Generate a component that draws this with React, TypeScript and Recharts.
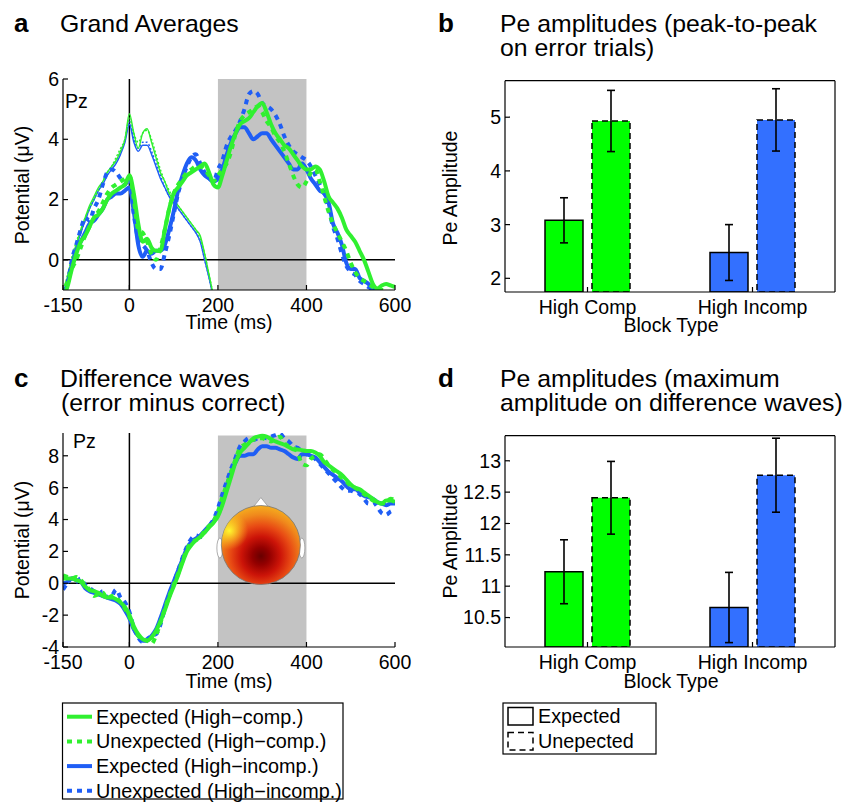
import React from 'react';
import {
  LineChart, Line, XAxis, YAxis, ReferenceLine, ReferenceArea, ReferenceDot,
  BarChart, Bar, Cell, ErrorBar,
} from 'recharts';

const FONT = '"Liberation Sans", Arial, Helvetica, sans-serif';
const GREEN = '#30f030';
const BLUE = '#1f5ef5';
const BAR_COLORS = ['#00ff00', '#3370ff'];
const SHADE = '#c3c3c3';

// time axis (ms) shared by panels a and c
const TIMES = [
  -150, -140, -130, -120, -110, -100, -90, -80, -70, -60, -50, -40, -30, -20, -10,
  0, 10, 20, 30, 40, 50, 60, 70, 80, 90, 100, 110, 120, 130, 140, 150, 160, 170, 180, 190,
  200, 210, 220, 230, 240, 250, 260, 270, 280, 290, 300, 310, 320, 330, 340, 350, 360, 370, 380, 390,
  400, 410, 420, 430, 440, 450, 460, 470, 480, 490, 500, 510, 520, 530, 540, 550, 560, 570, 580, 590, 600,
];

// panel a: grand averages, error trials (thick)
const aGreenExp = [
  -1.2, -0.9, -0.3, 0.2, 0.6, 0.8, 1.1, 1.4, 1.5, 1.7, 2.0, 2.2, 2.3, 2.4, 2.5,
  2.8, 2.2, 1.2, 0.6, 0.7, 0.4, 0.3, 0.3, 1.0, 1.7, 2.2, 2.4, 2.6, 2.8, 2.9, 3.0, 3.1, 3.2, 2.9, 2.5,
  2.4, 2.8, 3.3, 3.8, 4.2, 4.5, 4.6, 4.7, 4.9, 5.1, 5.2, 4.9, 4.5, 4.2, 4.0, 3.8, 3.7, 3.5, 3.3, 3.1,
  3.0, 3.0, 3.1, 3.0, 2.6, 2.1, 1.9, 1.7, 1.4, 1.0, 0.8, 0.6, 0.3, 0.0, -0.4, -0.8, -0.95, -0.85, -0.8, -0.85, -0.9,
];
const aGreenUnexp = [
  -1.2, -0.7, -0.3, 0.0, 0.4, 0.8, 1.1, 1.4, 1.6, 1.9, 2.2, 2.4, 2.5, 2.6, 2.7,
  2.8, 2.0, 1.0, 0.9, 0.6, 0.2, 0.0, 0.4, 1.0, 1.7, 2.2, 2.5, 2.7, 2.9, 3.0, 3.1, 3.1, 3.0, 2.8, 2.6,
  2.8, 3.0, 3.2, 3.6, 4.2, 4.6, 4.8, 4.9, 5.0, 5.1, 4.9, 4.6, 4.4, 4.1, 3.9, 3.6, 3.2, 2.8, 2.5, 2.4,
  2.6, 2.9, 3.0, 2.6, 2.1, 1.6, 1.2, 0.9, 0.6, 0.3, -0.1, -0.4, -0.6, -0.7, -0.8, -0.9, -1.0, -1.0, -1.0, -1.1, -1.1,
];
const aBlueExp = [
  -1.3, -0.8, -0.2, 0.3, 0.6, 0.9, 1.2, 1.3, 1.5, 1.7, 2.0, 2.1, 2.2, 2.2, 2.3,
  2.4, 1.6, 0.5, 0.1, 0.3, 0.2, 0.3, 0.3, 0.5, 1.0, 1.6, 2.3, 2.8, 3.2, 3.4, 3.3, 3.0, 2.8, 2.7, 2.6,
  2.7, 3.0, 3.5, 3.9, 4.2, 4.4, 4.4, 4.2, 4.0, 4.1, 4.2, 4.2, 4.0, 3.8, 3.6, 3.4, 3.2, 3.0, 3.0, 3.2,
  3.0, 2.7, 2.5, 2.3, 2.2, 1.9, 1.2, 0.9, 0.5, -0.1, -0.3, -0.3, -0.6, -0.7, -0.8, -1.0, -1.1, -1.2, -1.2, -1.3, -1.3,
];
const aBlueUnexp = [
  -1.1, -0.8, 0.0, 0.5, 1.0, 1.4, 1.3, 1.7, 2.0, 2.5, 2.9, 3.0, 2.9, 2.7, 2.5,
  2.7, 1.5, 0.7, 0.5, 0.3, -0.1, -0.3, -0.3, 0.2, 0.8, 1.5, 2.2, 2.7, 3.1, 3.4, 3.5, 3.2, 2.9, 2.7, 2.6,
  3.0, 3.3, 3.8, 4.1, 4.3, 4.6, 5.0, 5.5, 5.6, 5.5, 5.2, 5.1, 5.0, 4.8, 4.5, 4.1, 3.8, 3.6, 3.5, 3.4,
  3.3, 3.1, 2.8, 2.5, 2.2, 1.7, 1.1, 0.7, 0.2, -0.2, -0.4, -0.5, -0.7, -0.8, -0.9, -1.0, -1.1, -1.2, -1.2, -1.3, -1.3,
];
// panel a: correct trials (thin), -150 .. 190 ms
const aGreenExpThin = [
  -1.2, -0.6, 0.0, 0.5, 1.0, 1.4, 1.8, 2.1, 2.4, 2.6, 2.9, 3.1, 3.3, 3.6, 4.0,
  4.85, 4.2, 3.7, 4.2, 4.35, 3.9, 3.4, 2.9, 2.6, 2.2, 2.0, 1.8, 1.6, 1.4, 1.2, 1.0, 0.8, 0.2, -0.5, -1.2,
];
const aGreenUnexpThin = [
  -1.1, -0.5, 0.1, 0.6, 1.0, 1.4, 1.7, 2.0, 2.3, 2.6, 2.9, 3.1, 3.4, 3.7, 4.0,
  4.7, 4.2, 3.9, 4.2, 4.3, 4.0, 3.5, 3.0, 2.6, 2.3, 2.0, 1.8, 1.6, 1.4, 1.2, 1.0, 0.7, 0.2, -0.5, -1.2,
];
const aBlueExpThin = [
  -1.3, -0.7, -0.1, 0.4, 0.9, 1.3, 1.7, 2.0, 2.3, 2.5, 2.8, 3.0, 3.2, 3.5, 3.9,
  4.5, 3.9, 3.6, 3.8, 3.8, 3.5, 3.1, 2.7, 2.4, 2.1, 1.9, 1.7, 1.5, 1.3, 1.1, 0.9, 0.6, 0.0, -0.6, -1.3,
];
const aBlueUnexpThin = [
  -1.2, -0.6, 0.0, 0.5, 0.9, 1.3, 1.7, 2.0, 2.3, 2.6, 2.9, 3.1, 3.3, 3.6, 4.0,
  4.6, 4.0, 3.7, 3.9, 3.9, 3.6, 3.2, 2.8, 2.4, 2.1, 1.9, 1.7, 1.5, 1.3, 1.1, 0.9, 0.6, 0.0, -0.6, -1.3,
];

// panel c: difference waves
const cGreenExp = [
  0.3, 0.3, 0.3, 0.2, 0.1, -0.2, -0.4, -0.5, -0.6, -0.8, -0.9, -0.9, -1.0, -1.2, -1.5,
  -2.0, -2.7, -3.2, -3.5, -3.6, -3.4, -3.0, -2.4, -1.7, -0.9, -0.2, 0.5, 1.3, 2.0, 2.4, 2.7, 2.9, 3.2, 3.5, 3.8,
  4.2, 4.9, 5.8, 6.7, 7.6, 8.2, 8.5, 8.8, 9.1, 9.2, 9.25, 9.2, 9.05, 8.9, 8.8, 8.7, 8.55, 8.4, 8.4, 8.35,
  8.3, 8.3, 8.2, 8.0, 7.6, 7.4, 7.2, 7.0, 6.8, 6.5, 6.2, 6.0, 5.9, 5.7, 5.5, 5.3, 5.1, 5.0, 5.2, 5.2, 5.1,
];
const cGreenUnexp = [
  0.5, 0.4, 0.3, 0.4, 0.2, -0.1, -0.4, -0.8, -0.7, -0.6, -1.0, -0.8, -0.9, -1.2, -1.6,
  -2.1, -2.8, -3.3, -3.5, -3.6, -3.8, -3.3, -2.5, -1.6, -0.8, -0.1, 0.6, 1.4, 2.1, 2.6, 2.7, 2.9, 3.3, 3.6, 3.9,
  4.5, 5.4, 6.2, 7.0, 7.8, 8.5, 8.7, 8.9, 9.0, 9.1, 9.1, 9.0, 8.9, 9.1, 9.2, 8.8, 8.6, 8.5, 8.2, 7.5,
  7.4, 7.8, 8.0, 8.1, 7.8, 7.4, 7.1, 6.9, 6.6, 6.4, 6.1, 6.0, 5.8, 5.6, 5.4, 5.2, 5.1, 5.0, 5.1, 5.3, 5.2,
];
const cBlueExp = [
  0.0, 0.1, 0.3, 0.2, 0.1, -0.3, -0.5, -0.6, -0.7, -0.8, -0.9, -1.0, -1.1, -1.3, -1.7,
  -2.2, -2.9, -3.3, -3.6, -3.6, -3.3, -2.9, -2.2, -1.4, -0.6, 0.1, 0.8, 1.5, 2.2, 2.6, 2.8, 3.0, 3.3, 3.6, 3.9,
  4.4, 5.2, 6.1, 7.0, 7.6, 8.0, 8.0, 8.1, 8.1, 8.4, 8.6, 8.6, 8.5, 8.5, 8.4, 8.3, 8.1, 7.9, 7.8, 8.1,
  8.1, 8.0, 7.9, 7.6, 7.3, 7.0, 6.8, 6.6, 6.4, 6.1, 5.9, 5.9, 5.7, 5.5, 5.4, 5.3, 5.1, 5.0, 4.9, 5.0, 5.0,
];
const cBlueUnexp = [
  -0.4, 0.0, 0.3, 0.1, 0.3, -0.1, -0.3, -0.5, -0.7, -0.5, -0.9, -0.8, -0.4, -0.9, -1.2,
  -1.8, -2.8, -3.4, -3.7, -3.5, -3.3, -3.2, -2.6, -1.6, -0.8, 0.0, 0.8, 1.6, 2.3, 2.8, 3.0, 2.9, 3.2, 3.6, 4.0,
  4.7, 5.6, 6.4, 7.2, 7.9, 8.6, 8.9, 9.1, 9.0, 9.1, 9.2, 9.1, 9.2, 9.3, 9.4, 9.1, 8.9, 8.6, 8.5, 8.3,
  8.1, 8.0, 7.8, 7.5, 7.2, 6.9, 6.6, 6.3, 6.0, 5.8, 5.8, 5.7, 5.6, 5.3, 5.0, 5.1, 4.8, 4.4, 4.3, 4.5, 4.6,
];

// panels b and d
const BLOCKS = ['High Comp', 'High Incomp'];
const bExpected = [3.08, 2.48];
const bExpectedSem = [0.42, 0.52];
const bUnexpected = [4.93, 4.95];
const bUnexpectedSem = [0.57, 0.58];
const dExpected = [11.23, 10.66];
const dExpectedSem = [0.51, 0.56];
const dUnexpected = [12.41, 12.77];
const dUnexpectedSem = [0.58, 0.59];

const SERIES = [
  { key: 'gExp', name: 'Expected (High\u2212comp.)', color: GREEN, dash: undefined as string | undefined },
  { key: 'gUnexp', name: 'Unexpected (High\u2212comp.)', color: GREEN, dash: '5 5' },
  { key: 'bExp', name: 'Expected (High\u2212incomp.)', color: BLUE, dash: undefined },
  { key: 'bUnexp', name: 'Unexpected (High\u2212incomp.)', color: BLUE, dash: '5 5' },
];
const THIN = [
  { key: 'bUnexpThin', color: BLUE, dash: '2 2' },
  { key: 'bExpThin', color: BLUE, dash: undefined as string | undefined },
  { key: 'gUnexpThin', color: GREEN, dash: '2 2' },
  { key: 'gExpThin', color: GREEN, dash: undefined },
];

const thinAt = (arr: number[], i: number) => (i < arr.length ? arr[i] : null);

const rowsA = TIMES.map((t, i) => ({
  t,
  gExp: aGreenExp[i],
  gUnexp: aGreenUnexp[i],
  bExp: aBlueExp[i],
  bUnexp: aBlueUnexp[i],
  gExpThin: thinAt(aGreenExpThin, i),
  gUnexpThin: thinAt(aGreenUnexpThin, i),
  bExpThin: thinAt(aBlueExpThin, i),
  bUnexpThin: thinAt(aBlueUnexpThin, i),
}));

const rowsC = TIMES.map((t, i) => ({
  t,
  gExp: cGreenExp[i],
  gUnexp: cGreenUnexp[i],
  bExp: cBlueExp[i],
  bUnexp: cBlueUnexp[i],
}));

const rowsB = BLOCKS.map((name, i) => ({
  name, exp: bExpected[i], expErr: bExpectedSem[i], unexp: bUnexpected[i], unexpErr: bUnexpectedSem[i],
}));
const rowsD = BLOCKS.map((name, i) => ({
  name, exp: dExpected[i], expErr: dExpectedSem[i], unexp: dUnexpected[i], unexpErr: dUnexpectedSem[i],
}));

const tickStyle = { fill: '#000', fontSize: 19.5, fontFamily: FONT };

// scalp map drawn at a data position inside panel c
const HeadMap = (props: any) => {
  const { cx, cy } = props;
  const r = 39.5;
  return (
    <g>
      <defs>
        <radialGradient id="headHeat" cx="0.5" cy="0.64" r="0.62">
          <stop offset="0" stopColor="#680000" />
          <stop offset="0.18" stopColor="#940000" />
          <stop offset="0.4" stopColor="#cc1408" />
          <stop offset="0.62" stopColor="#e84a14" />
          <stop offset="0.85" stopColor="#f08a1c" />
          <stop offset="1" stopColor="#f4a81e" />
        </radialGradient>
        <radialGradient id="headYellow" cx="0.1" cy="0.32" r="0.24">
          <stop offset="0" stopColor="#ffff30" stopOpacity="0.95" />
          <stop offset="1" stopColor="#ffd020" stopOpacity="0" />
        </radialGradient>
      </defs>
      <polygon points={`${cx - 8},${cy - r + 2} ${cx + 8},${cy - r + 2} ${cx},${cy - r - 8}`} fill="#fff" stroke="#999" strokeWidth={0.8} />
      <ellipse cx={cx - r - 1.5} cy={cy + 3} rx={3} ry={10} fill="#fff" stroke="#999" strokeWidth={0.8} />
      <ellipse cx={cx + r + 1.5} cy={cy + 3} rx={3} ry={10} fill="#fff" stroke="#999" strokeWidth={0.8} />
      <circle cx={cx} cy={cy} r={r} fill="url(#headHeat)" stroke="#777" strokeWidth={0.8} />
      <circle cx={cx} cy={cy} r={r} fill="url(#headYellow)" />
    </g>
  );
};

const WavePanel = ({ top, rows, yDomain, yTicks, shadeTop, marginTop, marginBottom, thin, head }: any) => (
  <div style={{ position: 'absolute', left: 0, top }}>
    <LineChart width={420} height={290} data={rows} margin={{ top: marginTop, right: 25, bottom: marginBottom, left: 20 }}>
      <XAxis
        dataKey="t" type="number" domain={[-150, 600]} ticks={[-150, 0, 200, 400, 600]} allowDataOverflow
        height={50} tickSize={-5} tickMargin={13.5} stroke="#000" strokeWidth={1.2} tick={tickStyle}
      />
      <YAxis
        type="number" domain={yDomain} ticks={yTicks} allowDataOverflow
        width={43} tickSize={-5} tickMargin={9} stroke="#000" strokeWidth={1.2} tick={tickStyle}
      />
      <ReferenceArea x1={200} x2={400} y1={yDomain[0]} y2={shadeTop} fill={SHADE} fillOpacity={1} stroke="none" ifOverflow="hidden" />
      <ReferenceLine x={0} stroke="#000" strokeWidth={1.5} />
      <ReferenceLine y={0} stroke="#000" strokeWidth={1.5} />
      {thin && THIN.map(s => (
        <Line key={s.key} dataKey={s.key} type="monotone" stroke={s.color} strokeWidth={1.4} strokeDasharray={s.dash}
          dot={false} activeDot={false} isAnimationActive={false} connectNulls={false} />
      ))}
      {[...SERIES].reverse().map(s => (
        <Line key={s.key} dataKey={s.key} type="monotone" stroke={s.color} strokeWidth={4} strokeDasharray={s.dash}
          dot={false} activeDot={false} isAnimationActive={false} />
      ))}
      {head && <ReferenceDot x={297} y={2.4} r={40} shape={HeadMap} ifOverflow="visible" />}
    </LineChart>
  </div>
);

const BarPanel = ({ top, rows, yDomain, yTicks }: any) => (
  <div style={{ position: 'absolute', left: 420, top }}>
    <BarChart width={426} height={290} data={rows} margin={{ top: 19.7, right: 10, bottom: 8, left: 40 }} barSize={38} barGap={9}>
      <XAxis dataKey="name" height={50} tickSize={-5} tickMargin={13.5} stroke="#000" strokeWidth={1.2} tick={tickStyle} interval={0} />
      <XAxis xAxisId="top" orientation="top" dataKey="name" height={1} tick={false} tickSize={-5} stroke="#000" strokeWidth={1.2} />
      <YAxis type="number" domain={yDomain} ticks={yTicks} allowDataOverflow width={45} tickSize={-5} tickMargin={9} stroke="#000" strokeWidth={1.2} tick={tickStyle} />
      <YAxis yAxisId="right" orientation="right" type="number" domain={yDomain} ticks={yTicks} allowDataOverflow width={1} tick={false} tickSize={-5} stroke="#000" strokeWidth={1.2} />
      <Bar dataKey="exp" stroke="#000" strokeWidth={1.5} isAnimationActive={false}>
        {rows.map((_: any, i: number) => <Cell key={i} fill={BAR_COLORS[i]} />)}
        <ErrorBar dataKey="expErr" width={4} stroke="#000" strokeWidth={1.6} />
      </Bar>
      <Bar dataKey="unexp" stroke="#000" strokeWidth={1.5} strokeDasharray="6 4" isAnimationActive={false}>
        {rows.map((_: any, i: number) => <Cell key={i} fill={BAR_COLORS[i]} />)}
        <ErrorBar dataKey="unexpErr" width={4} stroke="#000" strokeWidth={1.6} />
      </Bar>
    </BarChart>
  </div>
);

const T = (p: any) => <text fontFamily={FONT} fill="#000" {...p} />;

const Overlay = () => (
  <svg width={846} height={802} style={{ position: 'absolute', left: 0, top: 0 }}>
    {/* panel titles */}
    <T x={14} y={32} fontSize={26} fontWeight="bold">a</T>
    <T x={60} y={32} fontSize={24.8}>Grand Averages</T>
    <T x={438} y={32} fontSize={26} fontWeight="bold">b</T>
    <T x={500} y={32} fontSize={24.8}>Pe amplitudes (peak-to-peak</T>
    <T x={500} y={56} fontSize={24.8}>on error trials)</T>
    <T x={14} y={387} fontSize={26} fontWeight="bold">c</T>
    <T x={60} y={387} fontSize={24.8}>Difference waves</T>
    <T x={61} y={411} fontSize={24.8}>(error minus correct)</T>
    <T x={438} y={387} fontSize={26} fontWeight="bold">d</T>
    <T x={500} y={387} fontSize={24.8}>Pe amplitudes (maximum</T>
    <T x={500} y={411} fontSize={24.8}>amplitude on difference waves)</T>

    {/* axis titles */}
    <T x={229} y={329} fontSize={19.5} textAnchor="middle">Time (ms)</T>
    <T x={229} y={688} fontSize={19.5} textAnchor="middle">Time (ms)</T>
    <T x={29} y={185} fontSize={19.5} textAnchor="middle" transform="rotate(-90 29 185)">Potential (μV)</T>
    <T x={29} y={540} fontSize={19.5} textAnchor="middle" transform="rotate(-90 29 540)">Potential (μV)</T>
    <T x={671} y={332} fontSize={19.5} textAnchor="middle">Block Type</T>
    <T x={671} y={688} fontSize={19.5} textAnchor="middle">Block Type</T>
    <T x={457} y={188} fontSize={19.5} textAnchor="middle" transform="rotate(-90 457 188)">Pe Amplitude</T>
    <T x={457} y={541} fontSize={19.5} textAnchor="middle" transform="rotate(-90 457 541)">Pe Amplitude</T>
    <T x={65} y={108} fontSize={19.5}>Pz</T>
    <T x={73} y={448} fontSize={19.5}>Pz</T>

    {/* line legend */}
    <rect x={62.5} y={703} width={280.5} height={96} fill="#fff" stroke="#000" strokeWidth={1.2} />
    {SERIES.map((s, i) => {
      const cy = 716.7 + i * 24.7;
      return (
        <g key={s.key}>
          <line x1={67} x2={92} y1={cy} y2={cy} stroke={s.color} strokeWidth={4} strokeDasharray={s.dash} />
          <T x={96} y={cy + 7} fontSize={19.8}>{s.name}</T>
        </g>
      );
    })}

    {/* bar legend */}
    <rect x={503} y={703} width={153} height={51} fill="#fff" stroke="#000" strokeWidth={1.2} />
    <rect x={508} y={707.5} width={25} height={17.5} fill="#fff" stroke="#000" strokeWidth={1.5} />
    <T x={538} y={723} fontSize={19.8}>Expected</T>
    <rect x={508} y={732.5} width={25} height={17.5} fill="#fff" stroke="#000" strokeWidth={1.5} strokeDasharray="6 4" />
    <T x={538} y={748} fontSize={19.8}>Unepected</T>
  </svg>
);

export default function App() {
  return (
    <div style={{ position: 'absolute', left: 0, top: 0, width: 846, height: 802, background: '#fff', fontFamily: FONT }}>
      <Overlay />
      <WavePanel top={60} rows={rowsA} yDomain={[-1, 6]} yTicks={[0, 2, 4, 6]} shadeTop={6} marginTop={19} marginBottom={10} thin />
      <WavePanel top={415} rows={rowsC} yDomain={[-4, 9.43]} yTicks={[-4, -2, 0, 2, 4, 6, 8]} shadeTop={9.28} marginTop={18} marginBottom={8} head />
      <BarPanel top={60} rows={rowsB} yDomain={[1.745, 5.68]} yTicks={[2, 3, 4, 5]} />
      <BarPanel top={415} rows={rowsD} yDomain={[10.03, 13.4]} yTicks={[10.5, 11, 11.5, 12, 12.5, 13]} />
    </div>
  );
}
